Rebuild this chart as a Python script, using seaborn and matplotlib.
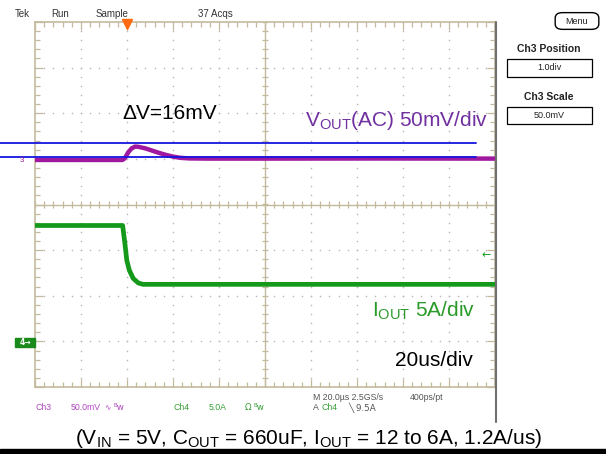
import numpy as np
import pandas as pd
import matplotlib
matplotlib.use("Agg")
import matplotlib.pyplot as plt
import seaborn as sns
from matplotlib.patches import Rectangle, FancyBboxPatch
from matplotlib.lines import Line2D

# ---------------- data ----------------
vout_t_us = [-100, -62, -61, -59.5, -58, -56.5, -55, -52, -49, -46, -43, -40, -37, -33, -25, 0, 50, 100]
vout_mv   = [-1.2, -1.2, 0.5, 7.0, 11.5, 13.5, 13.2, 11.5, 9.0, 6.5, 4.3, 2.5, 1.2, 0.5, 0.3, 0.3, 0.4, 0.3]
iout_t_us = [-100, -61.9, -60.9, -60.1, -59.0, -57.3, -55.1, -53.0, 0, 100]
iout_a    = [12.7, 12.7, 10.7, 8.9, 7.8, 6.9, 6.4, 6.25, 6.25, 6.25]
cursor_mv = [17.8, 1.8]
ch3_pos_div, ch3_scale_mv = 1.0, 50.0
ch4_pos_div, ch4_scale_a = -3.0, 5.0
trigger_t_us, trigger_level_a = -60.0, 9.5
time_per_div_us = 20

# ---------------- style ----------------
sns.set_style("white")
plt.rcParams['font.family'] = ['Liberation Sans', 'DejaVu Sans']
plt.rcParams['mathtext.fontset'] = 'custom'
plt.rcParams['mathtext.rm'] = 'Liberation Sans'
plt.rcParams['mathtext.it'] = 'Liberation Sans:italic'
plt.rcParams['mathtext.bf'] = 'Liberation Sans:bold'

W, H = 606, 454
fig = plt.figure(figsize=(W / 100, H / 100), dpi=100)
fig.patch.set_facecolor('white')

def fx(x):
    return x / W

def fy(y):
    return 1 - y / H

ax = fig.add_axes([35 / W, 1 - 387 / H, 460 / W, 365 / H])
ax.set_xlim(-5 * time_per_div_us, 5 * time_per_div_us)
ax.set_ylim(-4, 4)
ax.set_facecolor('white')

tan = '#c3ba9c'
gridc = '#b8b8b8'
purple = '#a0189f'
green = '#14991a'

# dotted graticule
minor_x = np.arange(-100, 100.01, time_per_div_us / 5)
minor_y = np.arange(-4, 4.01, 0.2)
for gx in np.arange(-80, 81, time_per_div_us):
    if gx == 0:
        continue
    ax.scatter(np.full_like(minor_y, gx), minor_y, s=1.3, color=gridc, lw=0, zorder=1)
for gy in np.arange(-3, 3.01, 1):
    if gy == 0:
        continue
    ax.scatter(minor_x, np.full_like(minor_x, gy), s=1.3, color=gridc, lw=0, zorder=1)

# center cross with ticks
ax.axhline(0, color=tan, lw=1.0, zorder=1)
ax.axvline(0, color=tan, lw=1.0, zorder=1)
ax.vlines(minor_x, -0.075, 0.075, color=tan, lw=0.9, zorder=1)
ax.hlines(minor_y, -1.5, 1.5, color=tan, lw=0.9, zorder=1)

# frame ticks
ax.set_xticks(np.arange(-100, 101, time_per_div_us))
ax.set_xticks(minor_x, minor=True)
ax.set_yticks(np.arange(-4, 4.01, 1))
ax.set_yticks(minor_y, minor=True)
ax.tick_params(which='both', direction='in', top=True, right=True, bottom=True, left=True,
               labelbottom=False, labelleft=False, color=tan, width=0.9)
ax.tick_params(which='major', length=6)
ax.tick_params(which='minor', length=3.5)
for s in ax.spines.values():
    s.set_color(tan)
    s.set_linewidth(1.2)

# traces
df_v = pd.DataFrame({'t': vout_t_us, 'div': [ch3_pos_div + v / ch3_scale_mv for v in vout_mv]})
df_i = pd.DataFrame({'t': iout_t_us, 'div': [ch4_pos_div + a / ch4_scale_a for a in iout_a]})
sns.lineplot(data=df_v, x='t', y='div', color=purple, lw=3.2, ax=ax, estimator=None, sort=False, zorder=3)
sns.lineplot(data=df_i, x='t', y='div', color=green, lw=3.4, ax=ax, estimator=None, sort=False, zorder=3)
ax.set_xlabel('')
ax.set_ylabel('')

# cursors (blue), extending to the left edge of the picture
x_left = -100 - 35 / 46 * time_per_div_us
x_right = -100 + (476 - 35) / 46 * time_per_div_us
for c in cursor_mv:
    yd = ch3_pos_div + c / ch3_scale_mv
    ax.plot([x_left, x_right], [yd, yd], color='#1515e0', lw=1.3, clip_on=False, zorder=4)

# trigger position marker
ax.plot([trigger_t_us], [3.965], marker='v', ms=6.5, color='#ff6a10', mec='#ff6a10', clip_on=False, zorder=5)
# trigger level arrow
ax.text(96, ch4_pos_div + trigger_level_a / ch4_scale_a, '\u2190', color=green, fontsize=8,
        ha='center', va='center', family=['DejaVu Sans'])

# ---------------- figure-level decorations ----------------
fig.add_artist(Line2D([fx(496), fx(496)], [fy(22), fy(422)], color='#707070', lw=1.5))
fig.add_artist(Rectangle((0, 0), 1, 5 / H, transform=fig.transFigure, color='black'))

# channel markers on the left
fig.text(fx(22), fy(160), '3', color=purple, fontsize=5.5, ha='center', va='center')
fig.add_artist(Rectangle((fx(15), fy(347)), 20 / W, 9 / H, transform=fig.transFigure, color='#1a8a1a'))
fig.text(fx(25), fy(342.5), '4\u2192', color='white', fontsize=5.5, ha='center', va='center',
         family=['DejaVu Sans'], fontweight='bold')

# header
hdr = dict(fontsize=7, color='#333333', ha='center', va='center')
fig.text(fx(22), fy(14), 'Tek', **hdr)
fig.text(fx(60), fy(14), 'Run', **hdr)
fig.text(fx(112), fy(14), 'Sample', **hdr)
fig.text(fx(215), fy(14), '37 Acqs', **hdr)

# right panel
fig.add_artist(FancyBboxPatch((fx(557), fy(28)), 40 / W, 14 / H, boxstyle='round,pad=0.003,rounding_size=0.012',
                              transform=fig.transFigure, fc='white', ec='black', lw=1.0))
fig.text(fx(577), fy(21), 'Menu', fontsize=6.5, ha='center', va='center', color='#222222')
fig.text(fx(549), fy(49), 'Ch3 Position', fontsize=7.5, fontweight='bold', ha='center', va='center', color='#222222')
fig.add_artist(Rectangle((fx(507), fy(77)), 85 / W, 18 / H, transform=fig.transFigure, fc='white', ec='black', lw=0.9))
fig.text(fx(549), fy(68), '1.0div', fontsize=6.5, ha='center', va='center', color='#222222')
fig.text(fx(549), fy(97), 'Ch3 Scale', fontsize=7.5, fontweight='bold', ha='center', va='center', color='#222222')
fig.add_artist(Rectangle((fx(507), fy(124)), 85 / W, 17 / H, transform=fig.transFigure, fc='white', ec='black', lw=0.9))
fig.text(fx(549), fy(115.5), '50.0mV', fontsize=6.5, ha='center', va='center', color='#222222')

# annotations
fig.text(fx(170), fy(119), '\u0394V=16mV', fontsize=15, color='black', ha='center', va='baseline')
fig.text(fx(305), fy(126), r'V$_{\mathregular{OUT}}$(AC) 50mV/div', fontsize=15, color='#7030a0',
         ha='left', va='baseline')
fig.text(fx(372), fy(317), r'I$_{\mathregular{OUT}}$ 5A/div', fontsize=15, color='#2a9a2a',
         ha='left', va='baseline')
fig.text(fx(395), fy(366), '20us/div', fontsize=15, color='black', ha='left', va='baseline')

# status line
c3 = '#b048c0'
c4 = '#38a038'
st = dict(fontsize=6.3, va='center', ha='left')
fig.text(fx(35), fy(408), 'Ch3', color=c3, **st)
fig.text(fx(71), fy(408), '50.0mV', color=c3, **st)
fig.text(fx(104), fy(408), '\u223f', color=c3, fontsize=5.5, va='center', ha='left', family=['DejaVu Sans'])
fig.text(fx(114), fy(408), '\u1d2ew', color=c3, fontsize=6.3, va='center', ha='left', family=['DejaVu Sans'])
fig.text(fx(173), fy(408), 'Ch4', color=c4, **st)
fig.text(fx(209), fy(408), '5.0A', color=c4, **st)
fig.text(fx(245), fy(408), '\u03a9', color=c4, fontsize=6.3, va='center', ha='left', family=['DejaVu Sans'])
fig.text(fx(253), fy(408), '\u1d2ew', color=c4, fontsize=6.3, va='center', ha='left', family=['DejaVu Sans'])
gr = '#555555'
fig.text(fx(313), fy(398), 'M 20.0\u00b5s 2.5GS/s', color=gr, **st)
fig.text(fx(410), fy(398), '400ps/pt', color=gr, **st)
fig.text(fx(313), fy(408), 'A', color=gr, **st)
fig.text(fx(322), fy(408), 'Ch4', color=c4, **st)
fig.text(fx(348), fy(408), '\u2572 9.5A', color=gr, fontsize=6.3, va='center', ha='left', family=['DejaVu Sans'])

# caption
fig.text(fx(309), fy(444), r'(V$_{\mathregular{IN}}$ = 5V, C$_{\mathregular{OUT}}$ = 660uF, I$_{\mathregular{OUT}}$ = 12 to 6A, 1.2A/us)',
         fontsize=15, color='black', ha='center', va='baseline')

fig.savefig('out.png', dpi=100, facecolor='white')
